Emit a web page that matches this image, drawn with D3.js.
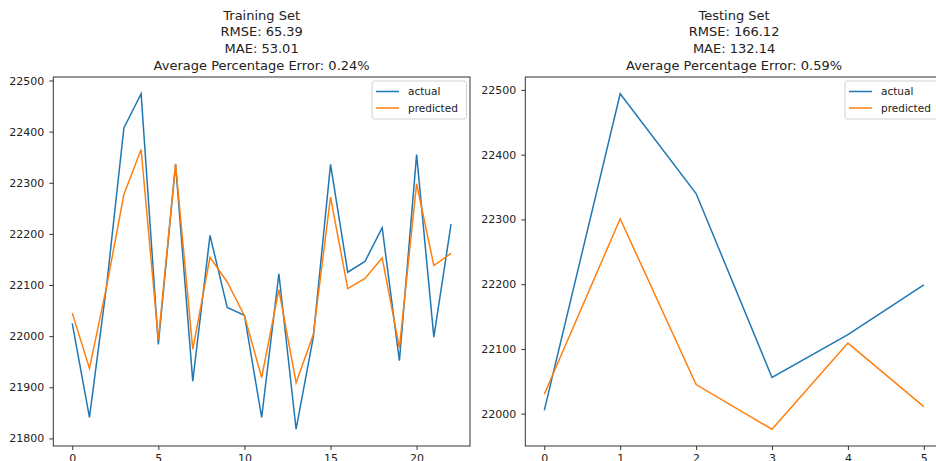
<!DOCTYPE html>
<html>
<head>
<meta charset="utf-8">
<script src="https://cdn.jsdelivr.net/npm/d3@7"></script>
<style>
  html, body { margin: 0; padding: 0; background: #fff; }
  svg { display: block; font-family: "DejaVu Sans", sans-serif; }
</style>
</head>
<body>
<svg id="chart" width="936" height="461"></svg>
<script>
// Training set: index vs actual / predicted values
const trainIndex = d3.range(23);
const trainActual = [22025, 21841, 22100, 22407, 22474, 21984, 22336, 21912, 22197, 22056, 22041, 21841,
                     22122, 21818, 21998, 22336, 22125, 22146, 22212, 21952, 22355, 21998, 22219];
const trainPredicted = [22045, 21937, 22098, 22277, 22365, 21993, 22337, 21974, 22154, 22106, 22040, 21919,
                        22091, 21909, 22003, 22272, 22093, 22113, 22153, 21977, 22298, 22138, 22162];

// Testing set
const testIndex = d3.range(6);
const testActual = [22005, 22494, 22340, 22056, 22122, 22199];
const testPredicted = [22030, 22301, 22045, 21976, 22109, 22011];

// Titles
const trainTitle = ["Training Set", "RMSE: 65.39", "MAE: 53.01", "Average Percentage Error: 0.24%"];
const testTitle = ["Testing Set", "RMSE: 166.12", "MAE: 132.14", "Average Percentage Error: 0.59%"];

// Tick labels
const trainXTicks = [0, 5, 10, 15, 20];
const trainYTicks = [21800, 21900, 22000, 22100, 22200, 22300, 22400, 22500];
const testXTicks = [0, 1, 2, 3, 4, 5];
const testYTicks = [22000, 22100, 22200, 22300, 22400, 22500];

const seriesNames = ["actual", "predicted"];
const seriesColors = ["#1f77b4", "#ff7f0e"];

const svg = d3.select("#chart");

// pad a [min, max] extent by 5% on each side
function padded(ext) {
  const m = (ext[1] - ext[0]) * 0.05;
  return [ext[0] - m, ext[1] + m];
}

function panel(opts) {
  const { left, right, top, bottom, index, actual, predicted, xTicks, yTicks, title, legendX } = opts;
  const g = svg.append("g");

  const x = d3.scaleLinear().domain(padded(d3.extent(index))).range([left, right]);
  const y = d3.scaleLinear().domain(padded(d3.extent(actual.concat(predicted)))).range([bottom, top]);

  // lines
  const line = d3.line().x((d, i) => x(index[i])).y(d => y(d));
  [actual, predicted].forEach((vals, k) => {
    g.append("path")
      .datum(vals)
      .attr("d", line)
      .attr("fill", "none")
      .attr("stroke", seriesColors[k])
      .attr("stroke-width", 1.5)
      .attr("stroke-linejoin", "miter");
  });

  // frame
  g.append("rect")
    .attr("x", left).attr("y", top)
    .attr("width", right - left).attr("height", bottom - top)
    .attr("fill", "none").attr("stroke", "#333").attr("stroke-width", 1);

  // axes
  const xAxis = d3.axisBottom(x).tickValues(xTicks).tickSize(4).tickPadding(4).tickFormat(d3.format("d"));
  const yAxis = d3.axisLeft(y).tickValues(yTicks).tickSize(4).tickPadding(5).tickFormat(d3.format("d"));

  const gx = g.append("g").attr("transform", `translate(0,${bottom})`).call(xAxis);
  const gy = g.append("g").attr("transform", `translate(${left},0)`).call(yAxis);
  [gx, gy].forEach(a => {
    a.select(".domain").remove();
    a.selectAll(".tick line").attr("stroke", "#333");
    a.selectAll(".tick text")
      .attr("fill", "#222")
      .style("font-family", "'DejaVu Sans', sans-serif")
      .style("font-size", "11px");
  });

  // title
  const cx = (left + right) / 2;
  g.append("text")
    .attr("text-anchor", "middle")
    .attr("fill", "#222")
    .style("font-size", "13px")
    .selectAll("tspan")
    .data(title)
    .join("tspan")
    .attr("x", cx)
    .attr("y", (d, i) => 19.5 + i * 16.7)
    .text(d => d);

  // legend
  const lg = g.append("g").attr("transform", `translate(${legendX},81)`);
  lg.append("rect")
    .attr("width", 94.5).attr("height", 38)
    .attr("rx", 2.5)
    .attr("fill", "#fff").attr("fill-opacity", 0.8)
    .attr("stroke", "#d0d0d0").attr("stroke-width", 1);
  seriesNames.forEach((name, k) => {
    const yy = 10.5 + k * 16.5;
    lg.append("line")
      .attr("x1", 4).attr("x2", 27)
      .attr("y1", yy).attr("y2", yy)
      .attr("stroke", seriesColors[k]).attr("stroke-width", 1.5);
    lg.append("text")
      .attr("x", 36).attr("y", yy)
      .attr("dy", "0.35em")
      .attr("fill", "#222")
      .style("font-size", "10.5px")
      .text(name);
  });
}

panel({
  left: 53.3, right: 470, top: 77, bottom: 446,
  index: trainIndex, actual: trainActual, predicted: trainPredicted,
  xTicks: trainXTicks, yTicks: trainYTicks, title: trainTitle, legendX: 372
});

panel({
  left: 525.3, right: 942.8, top: 77, bottom: 446,
  index: testIndex, actual: testActual, predicted: testPredicted,
  xTicks: testXTicks, yTicks: testYTicks, title: testTitle, legendX: 845
});
</script>
</body>
</html>
